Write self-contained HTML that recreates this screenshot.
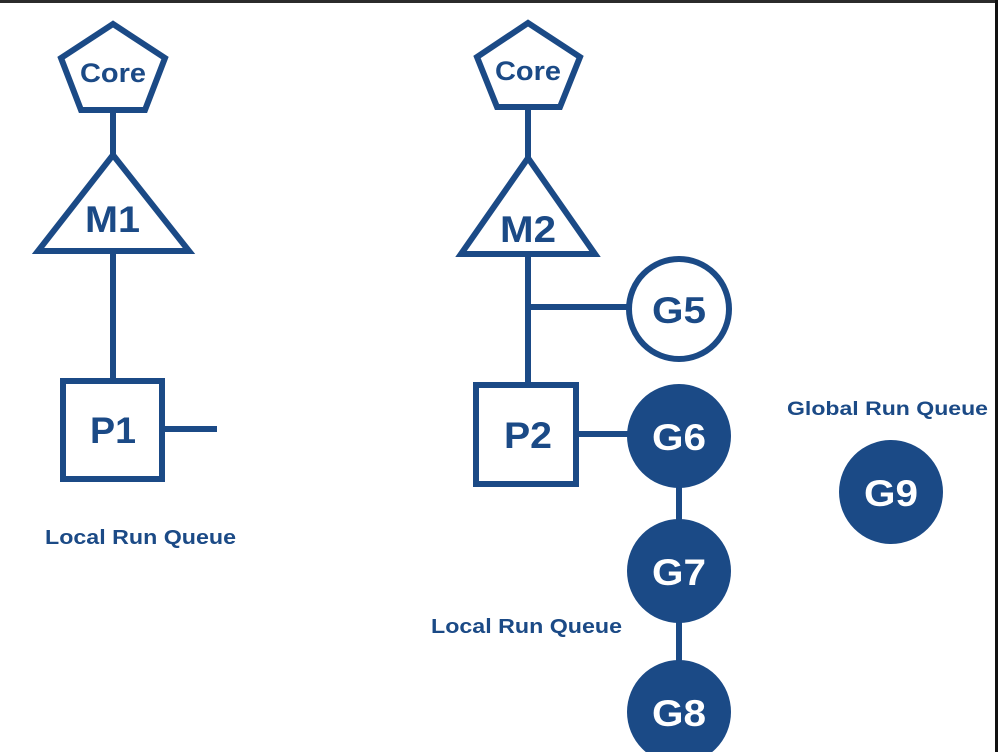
<!DOCTYPE html>
<html><head><meta charset="utf-8"><style>
html,body{margin:0;padding:0;background:#fff;width:998px;height:752px;overflow:hidden}
svg{display:block}
text{font-family:"Liberation Sans",Arial,sans-serif;font-weight:bold}
</style></head><body>
<svg width="998" height="752" viewBox="0 0 998 752" xmlns="http://www.w3.org/2000/svg">
<rect x="0" y="0" width="998" height="752" fill="#fff"/>
<rect x="0" y="0" width="998" height="3" fill="#2b2b2b"/>
<rect x="995" y="0" width="3" height="752" fill="#111"/>
<g stroke="#1b4a86" stroke-width="6" fill="none" stroke-linejoin="miter">
<polygon points="113,24 61,58 81,110 145,110 165,58"/>
<line x1="113" y1="110" x2="113" y2="155"/>
<polygon points="113,155 38,251 189,251"/>
<line x1="113" y1="251" x2="113" y2="381"/>
<rect x="63" y="381" width="99" height="98"/>
<line x1="162" y1="429" x2="217" y2="429"/>
<polygon points="528,23 477,57 497,107 560,107 580,57"/>
<line x1="528" y1="107" x2="528" y2="158"/>
<polygon points="528,158 461,254 595,254"/>
<line x1="528" y1="254" x2="528" y2="385"/>
<line x1="528" y1="307" x2="628" y2="307"/>
<circle cx="679" cy="309" r="50"/>
<rect x="476" y="385" width="100" height="99"/>
<line x1="576" y1="434" x2="630" y2="434"/>
<line x1="679" y1="470" x2="679" y2="680"/>
</g>
<g fill="#1b4a86">
<circle cx="679" cy="436" r="52"/>
<circle cx="679" cy="571" r="52"/>
<circle cx="679" cy="712" r="52"/>
<circle cx="891" cy="492" r="52"/>
</g>
<g fill="#1b4a86">
<text x="80" y="82" font-size="27" textLength="66" lengthAdjust="spacingAndGlyphs">Core</text>
<text x="495" y="80" font-size="27" textLength="66" lengthAdjust="spacingAndGlyphs">Core</text>
<text x="85" y="232" font-size="37" textLength="55" lengthAdjust="spacingAndGlyphs">M1</text>
<text x="500" y="242" font-size="37" textLength="56" lengthAdjust="spacingAndGlyphs">M2</text>
<text x="90" y="443" font-size="37" textLength="46" lengthAdjust="spacingAndGlyphs">P1</text>
<text x="504" y="448" font-size="37" textLength="48" lengthAdjust="spacingAndGlyphs">P2</text>
<text x="652" y="323" font-size="37" textLength="54" lengthAdjust="spacingAndGlyphs">G5</text>
</g>
<g fill="#fff" font-size="37">
<text x="652" y="450" textLength="54" lengthAdjust="spacingAndGlyphs">G6</text>
<text x="652" y="585" textLength="54" lengthAdjust="spacingAndGlyphs">G7</text>
<text x="652" y="726" textLength="54" lengthAdjust="spacingAndGlyphs">G8</text>
<text x="864" y="506" textLength="54" lengthAdjust="spacingAndGlyphs">G9</text>
</g>
<g fill="#1b4a86" font-size="20">
<text x="45" y="544" textLength="191" lengthAdjust="spacingAndGlyphs">Local Run Queue</text>
<text x="431" y="633" textLength="191" lengthAdjust="spacingAndGlyphs">Local Run Queue</text>
<text x="787" y="415" font-size="19" textLength="201" lengthAdjust="spacingAndGlyphs">Global Run Queue</text>
</g>
</svg>
</body></html>
